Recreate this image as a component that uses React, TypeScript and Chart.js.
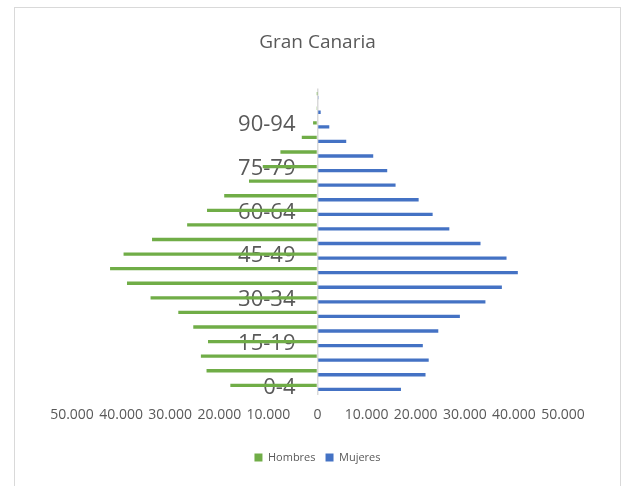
import React, { useEffect, useRef } from "react";
import { Chart, registerables } from "chart.js";

Chart.register(...registerables);

const ageGroups = [
  "0-4", "5-9", "10-14", "15-19", "20-24", "25-29", "30-34", "35-39", "40-44", "45-49",
  "50-54", "55-59", "60-64", "65-69", "70-74", "75-79", "80-84", "85-89", "90-94", "95-99", "100+",
];
const hombres = [17750, 22600, 23750, 22300, 25300, 28350, 34000, 38800, 42250, 39500, 33700, 26550, 22500, 19000, 13950, 11150, 7550, 3200, 900, 200, 30];
const mujeres = [17000, 22000, 22650, 21450, 24600, 29000, 34200, 37550, 40800, 38500, 33200, 26850, 23450, 20600, 15900, 14200, 11350, 5850, 2400, 650, 100];
const xTicks = [-50000, -40000, -30000, -20000, -10000, 0, 10000, 20000, 30000, 40000, 50000];

const FONT = "'Open Sans', 'Noto Sans', sans-serif";
const TEXT = "#595959";

function fmt(v: number): string {
  const a = Math.abs(Math.round(v));
  return a.toString().replace(/\B(?=(\d{3})+(?!\d))/g, ".");
}

const borderPlugin = {
  id: "chartBorder",
  beforeDraw(chart: any) {
    const ctx = chart.ctx;
    ctx.save();
    ctx.fillStyle = "#ffffff";
    ctx.fillRect(0, 0, chart.width, chart.height);
    ctx.strokeStyle = "#d9d9d9";
    ctx.lineWidth = 1;
    ctx.strokeRect(14.5, 7.5, 606, 520);
    ctx.restore();
  },
};

export default function App() {
  const ref = useRef<HTMLCanvasElement | null>(null);
  useEffect(() => {
    if (!ref.current) return;
    const chart = new Chart(ref.current, {
      type: "bar",
      data: {
        labels: ageGroups,
        datasets: [
          {
            label: "Hombres",
            data: hombres.map((v) => -v),
            backgroundColor: "#70AD47",
            borderWidth: 0,
            barPercentage: 0.83,
            categoryPercentage: 0.55,
          },
          {
            label: "Mujeres",
            data: mujeres,
            backgroundColor: "#4472C4",
            borderWidth: 0,
            barPercentage: 0.83,
            categoryPercentage: 0.55,
          },
        ],
      },
      plugins: [borderPlugin],
      options: {
        indexAxis: "y",
        responsive: false,
        animation: false,
        layout: { padding: { left: 72, right: 64, top: 0, bottom: 13 } },
        scales: {
          x: {
            type: "linear",
            min: -50000,
            max: 50000,
            afterBuildTicks: (s: any) => {
              s.ticks = xTicks.map((v) => ({ value: v }));
            },
            afterFit: (s: any) => {
              s.height += 5.6;
            },
            grid: {
              display: true,
              drawTicks: false,
              lineWidth: 1.5,
              color: (c: any) => (c.tick && c.tick.value === 0 ? "#d9d9d9" : "transparent"),
            },
            border: { display: false },
            ticks: {
              padding: 12.5,
              color: TEXT,
              font: { family: FONT, size: 14 },
              maxRotation: 0,
              callback: (v: any) => fmt(Number(v)),
            },
          },
          y: {
            type: "category",
            reverse: true,
            position: { x: -4480 } as any,
            z: 1,
            grid: { display: false, drawTicks: false },
            border: { display: false },
            ticks: {
              autoSkip: false,
              padding: 0,
              color: TEXT,
              font: { family: FONT, size: 22 },
              callback: function (this: any, val: any, i: number) {
                return i % 3 === 0 ? this.getLabelForValue(val) : "";
              },
            },
          },
        },
        plugins: {
          title: {
            display: true,
            text: "Gran Canaria",
            color: TEXT,
            font: { family: FONT, size: 19, weight: "normal" },
            padding: { top: 31.6, bottom: 34 },
          },
          legend: {
            display: true,
            position: "bottom",
            labels: {
              boxWidth: 8,
              boxHeight: 8,
              padding: 10,
              color: TEXT,
              font: { family: FONT, size: 11 },
            },
          },
          tooltip: { enabled: false },
        },
      },
    });
    return () => chart.destroy();
  }, []);
  return (
    <div style={{ position: "absolute", left: 0, top: 0, width: 627, height: 486 }}>
      <canvas ref={ref} width={627} height={486} />
    </div>
  );
}
